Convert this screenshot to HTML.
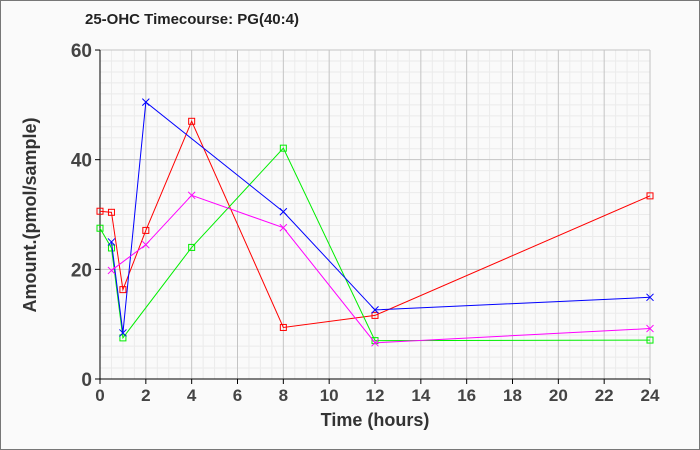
<!DOCTYPE html>
<html><head><meta charset="utf-8"><style>
html,body{margin:0;padding:0;background:#fafafa}
svg{display:block}
text{font-family:"Liberation Sans",sans-serif}
</style></head><body>
<svg width="700" height="450" xmlns="http://www.w3.org/2000/svg">
<rect x="0.5" y="0.5" width="699" height="449" fill="#fafafa" stroke="#777"/>
<g id="grid"></g>
<text x="85" y="24" font-size="15" font-weight="bold" fill="#222">25-OHC Timecourse: PG(40:4)</text>
<g id="axes"></g>
<g id="series"></g>
<text x="375" y="426" font-size="18" font-weight="bold" fill="#333" text-anchor="middle">Time (hours)</text>
<text transform="translate(36,215) rotate(-90)" font-size="18" font-weight="bold" fill="#333" text-anchor="middle">Amount.(pmol/sample)</text>
</svg>
<script>
const X=t=>100+t*22.917, Y=v=>379-v*5.483;
const ns="http://www.w3.org/2000/svg";
function el(p,n,a){const e=document.createElementNS(ns,n);for(const k in a)e.setAttribute(k,a[k]);p.appendChild(e);return e;}
const g=document.getElementById('grid');
el(g,'rect',{x:100,y:50,width:550,height:329,fill:'#fafafa'});
for(let t=0;t<=24;t+=0.5){if(t%2)el(g,'line',{x1:X(t),x2:X(t),y1:50,y2:379,stroke:'#ebebeb'});}
for(let v=0;v<=60;v+=2){if(v%20)el(g,'line',{x1:100,x2:650,y1:Y(v),y2:Y(v),stroke:'#ebebeb'});}
for(let t=2;t<=24;t+=2)el(g,'line',{x1:X(t),x2:X(t),y1:50,y2:379,stroke:'#c4c4c4'});
for(let v=20;v<=60;v+=20)el(g,'line',{x1:100,x2:650,y1:Y(v),y2:Y(v),stroke:'#c4c4c4'});
const a=document.getElementById('axes');
el(a,'line',{x1:100,x2:100,y1:50,y2:379,stroke:'#000'});
el(a,'line',{x1:100,x2:650,y1:379,y2:379,stroke:'#000'});
for(let t=0;t<=24;t+=2){el(a,'line',{x1:X(t),x2:X(t),y1:379,y2:384,stroke:'#000'});const tx=el(a,'text',{x:X(t),y:401,'font-size':17,'font-weight':'bold',fill:'#444','text-anchor':'middle'});tx.textContent=t;}
for(let v=0;v<=60;v+=20){el(a,'line',{x1:95,x2:100,y1:Y(v),y2:Y(v),stroke:'#000'});const tx=el(a,'text',{x:92,y:Y(v)+7,'font-size':19,'font-weight':'bold',fill:'#444','text-anchor':'end'});tx.textContent=v;}
const S=document.getElementById('series');
const data=[
 ['#ff0000','sq',[[0,30.6],[0.5,30.4],[1,16.3],[2,27.1],[4,47],[8,9.4],[12,11.6],[24,33.4]]],
 ['#00ee00','sq',[[0,27.5],[0.5,23.9],[1,7.5],[4,24],[8,42.1],[12,7],[24,7.1]]],
 ['#0000ff','x',[[0.5,25],[1,8.4],[2,50.5],[8,30.5],[12,12.6],[24,14.9]]],
 ['#ff00ff','x',[[0.5,19.8],[2,24.5],[4,33.5],[8,27.6],[12,6.6],[24,9.2]]]];
for(const [c,m,p] of data){
 el(S,'polyline',{points:p.map(q=>X(q[0])+','+Y(q[1])).join(' '),fill:'none',stroke:c,'stroke-width':1});
 for(const q of p){const x=X(q[0]),y=Y(q[1]);
  if(m=='sq')el(S,'rect',{x:x-3,y:y-3,width:6,height:6,fill:'none',stroke:c});
  else el(S,'path',{d:`M${x-3.5},${y-3.5}L${x+3.5},${y+3.5}M${x-3.5},${y+3.5}L${x+3.5},${y-3.5}`,stroke:c});}
}
</script>
</body></html>
